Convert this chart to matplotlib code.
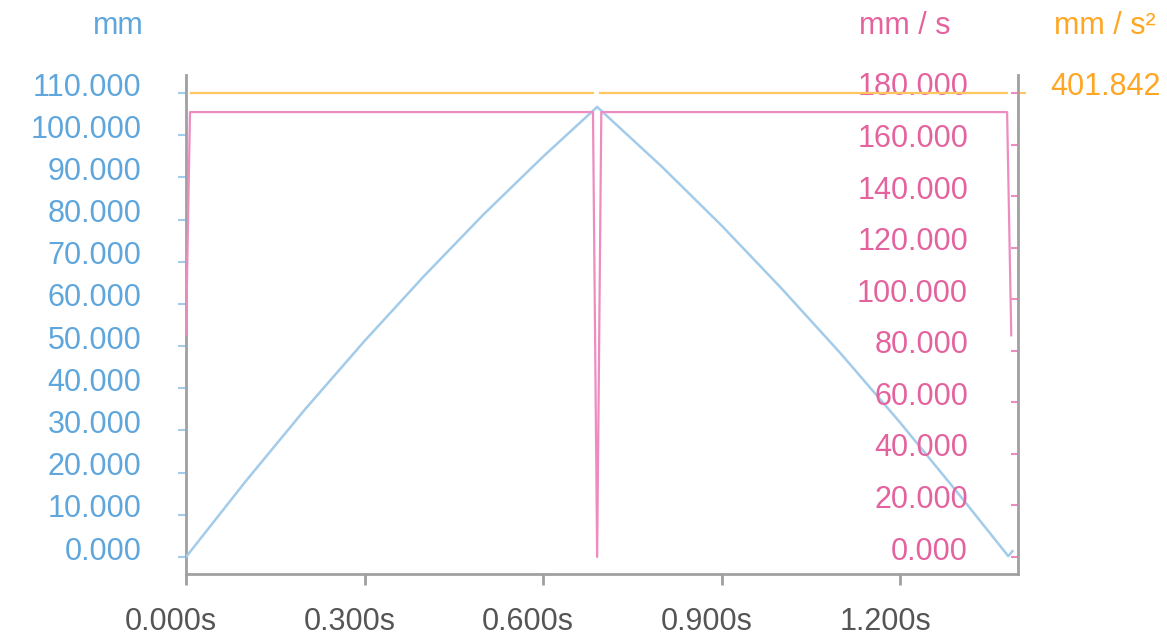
import matplotlib
matplotlib.use("Agg")
import matplotlib.pyplot as plt
import numpy as np
from matplotlib.transforms import ScaledTranslation

plt.rcParams['font.family'] = ['Liberation Sans', 'DejaVu Sans']

# ---- data ----
pos_t = [0.0, 0.10, 0.20, 0.30, 0.40, 0.50, 0.60, 0.691,
         0.80, 0.90, 1.00, 1.10, 1.20, 1.30, 1.382, 1.389]
pos_mm = [0.0, 17.9, 35.0, 51.2, 66.6, 81.2, 94.9, 106.7,
          92.5, 78.6, 63.8, 48.3, 31.9, 14.7, 0.2, 1.4]

vel_t = [0.0, 0.0067, 0.684, 0.691, 0.698, 1.380, 1.387]
vel_mms = [86.0, 172.6, 172.6, 0.0, 172.6, 172.6, 86.0]

acc_t = [0.0084, 0.684, np.nan, 0.696, 1.380]
acc_mms2 = [401.842, 401.842, np.nan, 401.842, 401.842]

x_ticks = [0.0, 0.3, 0.6, 0.9, 1.2]
x_labels = ['0.000s', '0.300s', '0.600s', '0.900s', '1.200s']
pos_ticks = [0, 10, 20, 30, 40, 50, 60, 70, 80, 90, 100, 110]
vel_ticks = [0, 20, 40, 60, 80, 100, 120, 140, 160, 180]
acc_ticks = [401.842]

# ---- style ----
W, H, DPI = 1167, 637, 100
BLUE_T = '#5fa6dc'
BLUE_L = '#a3cbea'
PINK_T = '#e4639f'
PINK_L = '#ee8cc0'
ORNG_T = '#ffa623'
ORNG_L = '#ffc55e'
GRAY = '#a0a0a0'
TXT = '#555555'
FS = 22

fig = plt.figure(figsize=(W / DPI, H / DPI), dpi=DPI)
L, R, T, B = 186, 1018, 75, 574
rect = [L / W, (H - B) / H, (R - L) / W, (B - T) / H]
ax = fig.add_axes(rect)
ax2 = ax.twinx()
ax3 = ax.twinx()

def lims(top_val):
    ppu = (557 - 93) / top_val
    return (-(B - 557) / ppu, top_val + (93 - T) / ppu)

ax.set_xlim(0, (R - L) / 595.0)
ax.set_ylim(*lims(110))
ax2.set_ylim(*lims(180))
ax3.set_ylim(*lims(401.842))

ax.plot(pos_t, pos_mm, color=BLUE_L, lw=1.8, zorder=3)
ax2.plot(vel_t, vel_mms, color=PINK_L, lw=1.6)
ax3.plot(acc_t, acc_mms2, color=ORNG_L, lw=1.6)

for a in (ax, ax2, ax3):
    for s in a.spines.values():
        s.set_visible(False)
    a.patch.set_visible(False)
for side in ('left', 'bottom'):
    ax.spines[side].set_visible(True)
    ax.spines[side].set_color(GRAY)
    ax.spines[side].set_linewidth(2)
ax3.spines['right'].set_visible(True)
ax3.spines['right'].set_color(GRAY)
ax3.spines['right'].set_linewidth(2)

off = ScaledTranslation(0, 9 / DPI, fig.dpi_scale_trans)
xoff = ScaledTranslation(-15 / DPI, 0, fig.dpi_scale_trans)

ax.set_xticks(x_ticks)
ax.set_xticklabels(x_labels)
ax.tick_params(axis='x', direction='out', length=8, width=2, color=GRAY,
               labelsize=FS, labelcolor=TXT, pad=16)
for lab in ax.get_xticklabels():
    lab.set_transform(lab.get_transform() + xoff)

ax.set_yticks(pos_ticks)
ax.set_yticklabels([f'{v:.3f}' for v in pos_ticks])
ax.tick_params(axis='y', direction='out', length=6, width=1.5, color=BLUE_L,
               labelsize=FS, labelcolor=BLUE_T, pad=26)
for lab in ax.get_yticklabels():
    lab.set_transform(lab.get_transform() + off)

ax2.set_yticks(vel_ticks)
ax2.set_yticklabels([f'{v:.3f}' for v in vel_ticks])
ax2.tick_params(axis='y', direction='in', length=5, width=1.5, color=PINK_L,
                labelsize=FS, labelcolor=PINK_T, pad=-36)
for lab in ax2.get_yticklabels():
    lab.set_horizontalalignment('right')
    lab.set_transform(lab.get_transform() + off)

ax3.set_yticks(acc_ticks)
ax3.set_yticklabels([f'{v:.3f}' for v in acc_ticks])
ax3.tick_params(axis='y', direction='out', length=6, width=1.5, color=ORNG_L,
                labelsize=FS, labelcolor=ORNG_T, pad=17)
for lab in ax3.get_yticklabels():
    lab.set_transform(lab.get_transform() + off)

def ftext(x, y, s, c):
    fig.text(x / W, 1 - y / H, s, color=c, fontsize=FS, ha='center', va='center')

ftext(118, 26, 'mm', BLUE_T)
ftext(905, 26, 'mm / s', PINK_T)
ftext(1105, 26, 'mm / s²', ORNG_T)

fig.savefig('out.png', dpi=DPI)
